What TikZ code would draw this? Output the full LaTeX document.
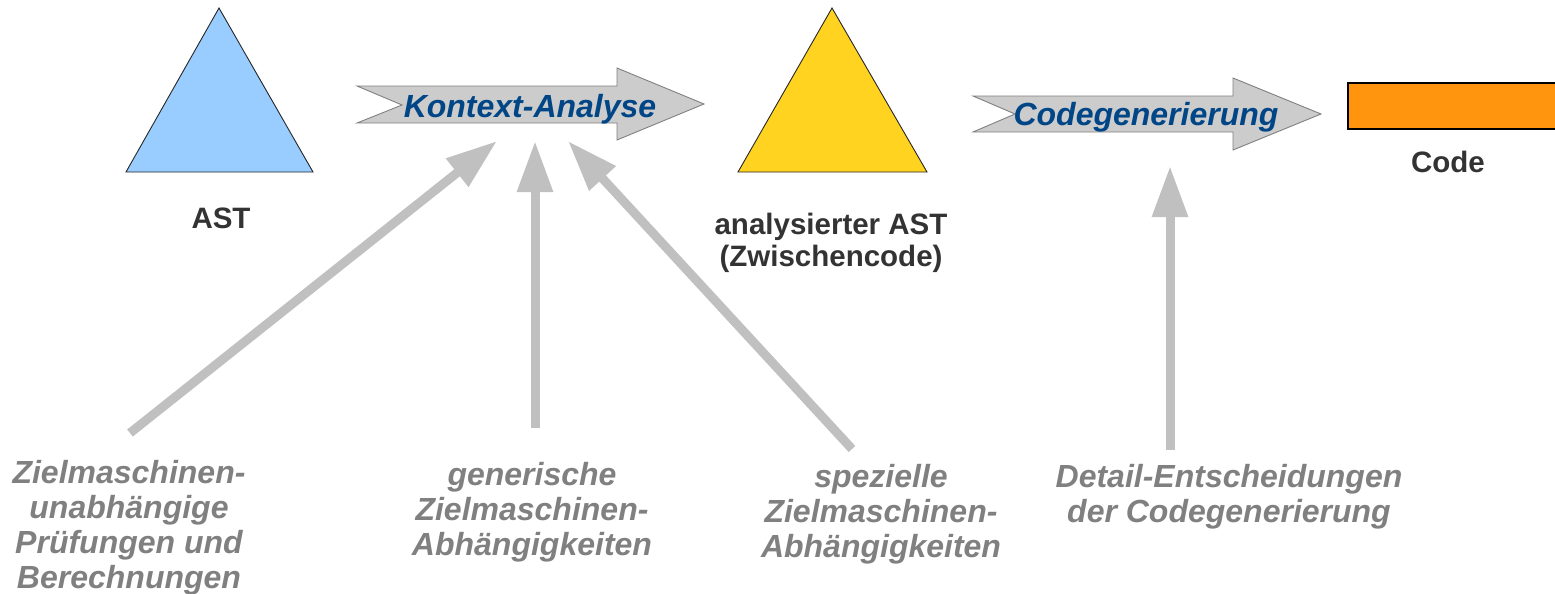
\documentclass[tikz,border=0pt]{standalone}
\usepackage{fontspec}
\setmainfont{Liberation Sans}
\usetikzlibrary{arrows.meta}
\definecolor{triblue}{HTML}{99CCFF}
\definecolor{triyellow}{HTML}{FFD320}
\definecolor{codeorange}{HTML}{FF950E}
\definecolor{bgray}{HTML}{CCCCCC}
\definecolor{bline}{HTML}{808080}
\definecolor{conngray}{HTML}{C0C0C0}
\definecolor{darktext}{HTML}{333333}
\definecolor{bluetext}{HTML}{004586}
\definecolor{graytext}{HTML}{808080}
\tikzset{
  tri/.style={draw=black!85, line width=0.9pt, line join=miter},
  blockarrow/.style={fill=bgray, draw=bline, line width=0.9pt},
  arrowlabel/.style={text=bluetext, font=\fontsize{32}{36}\selectfont\bfseries\itshape, inner sep=0pt, anchor=base},
  darklabel/.style={text=darktext, font=\fontsize{29.5}{32}\selectfont\bfseries, inner sep=0pt, align=center},
  graylabel/.style={text=graytext, font=\fontsize{32}{35}\selectfont\bfseries\itshape, inner sep=0pt, align=center, anchor=north},
  conn/.style={draw=conngray, line width=9pt, -{Triangle[length=51pt,width=34pt]}}
}
\begin{document}
\begin{tikzpicture}[x=1pt,y=-1pt]
\useasboundingbox (0,0) rectangle (1555,594);
\clip (0,0) rectangle (1555,594);
% triangles
\draw[tri, fill=triblue] (126,172) -- (313,172) -- (219,8) -- cycle;
\draw[tri, fill=triyellow] (738,172) -- (927,172) -- (832,8) -- cycle;
% code rectangle
\draw[fill=codeorange, draw=black, line width=1.2pt] (1348,83) rectangle (1565,129);
% block arrows
\draw[blockarrow] (357,86) -- (617,86) -- (617,68) -- (704,104) -- (617,140) -- (617,123) -- (357,123) -- (402,105) -- cycle;
\draw[blockarrow] (973,96) -- (1233,96) -- (1233,78) -- (1321,114) -- (1233,150) -- (1233,132) -- (973,132) -- (1015,114) -- cycle;
% labels
\node[arrowlabel] (ka) at (530,117) {Kontext-Analyse};
\node[arrowlabel] (cg) at (1146,125) {Codegenerierung};
\node[darklabel, anchor=base] (ast) at (221,228) {AST};
\node[darklabel, anchor=north] (aast) at (831,212.5) {analysierter AST\\(Zwischencode)};
\node[darklabel, anchor=base] (code) at (1448,172) {Code};
\node[graylabel] (l1) at (129,460) {Zielmaschinen-\\unabhängige\\Prüfungen und\\Berechnungen};
\node[graylabel] (l2) at (532,462) {generische\\Zielmaschinen-\\Abhängigkeiten};
\node[graylabel] (l3) at (881,464) {spezielle\\Zielmaschinen-\\Abhängigkeiten};
\node[graylabel] (l4) at (1229,464) {Detail-Entscheidungen\\der Codegenerierung};
% connector end points
\coordinate (s1) at (130,433);
\coordinate (t1) at (497,141);
\coordinate (s2) at (535,428);
\coordinate (t2) at (535,141);
\coordinate (s3) at (852,449);
\coordinate (t3) at (568,141);
\coordinate (s4) at (1170,450);
\coordinate (t4) at (1170,166);
\draw[conn] (s1) -- (t1);
\draw[conn] (s2) -- (t2);
\draw[conn] (s3) -- (t3);
\draw[conn] (s4) -- (t4);
\end{tikzpicture}
\end{document}
